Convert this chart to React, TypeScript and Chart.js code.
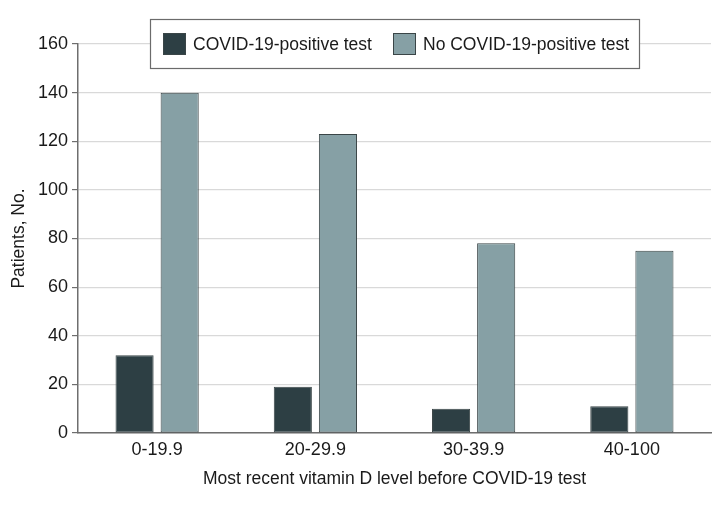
import React, { useEffect, useRef } from 'react';
import { Chart, registerables } from 'chart.js';

Chart.register(...registerables);

const categories = ['0-19.9', '20-29.9', '30-39.9', '40-100'];
const positiveCounts = [32, 19, 10, 11];
const negativeCounts = [140, 123, 78, 75];
const seriesLabels = ['COVID-19-positive test', 'No COVID-19-positive test'];
const yTicks = [0, 20, 40, 60, 80, 100, 120, 140, 160];

const FONT = '"Liberation Sans", Arial, sans-serif';
const DARK = '#2d3f44';
const LIGHT = '#86a0a5';
const EDGE = '#3a4547';

// boxed legend sitting inside the plot area, like the printed figure
const boxedLegend = {
  id: 'boxedLegend',
  afterDatasetsDraw(chart: any) {
    const ctx = chart.ctx;
    const x0 = 150, y0 = 19, w = 489, h = 49;
    ctx.save();
    ctx.fillStyle = '#fff';
    ctx.fillRect(x0, y0, w, h);
    ctx.strokeStyle = '#6b6b6b';
    ctx.lineWidth = 1.2;
    ctx.strokeRect(x0 + 0.5, y0 + 0.5, w, h);
    ctx.font = `17.5px ${FONT}`;
    ctx.textBaseline = 'middle';
    const starts = [163, 393];
    chart.data.datasets.forEach((ds: any, i: number) => {
      const sx = starts[i];
      ctx.fillStyle = ds.backgroundColor;
      ctx.fillRect(sx, 33, 23, 22);
      ctx.strokeStyle = EDGE;
      ctx.lineWidth = 1;
      ctx.strokeRect(sx + 0.5, 33.5, 22, 21);
      ctx.fillStyle = '#1a1a1a';
      ctx.fillText(ds.label, sx + 30, 45);
    });
    ctx.restore();
  },
};

const App: React.FC = () => {
  const canvasRef = useRef<HTMLCanvasElement | null>(null);
  const chartRef = useRef<Chart | null>(null);

  useEffect(() => {
    if (!canvasRef.current) return;
    if (chartRef.current) chartRef.current.destroy();

    chartRef.current = new Chart(canvasRef.current, {
      type: 'bar',
      data: {
        labels: categories,
        datasets: [
          {
            label: seriesLabels[0],
            data: positiveCounts,
            backgroundColor: DARK,
            borderColor: EDGE,
            borderWidth: 1,
            borderSkipped: false,
          },
          {
            label: seriesLabels[1],
            data: negativeCounts,
            backgroundColor: LIGHT,
            borderColor: EDGE,
            borderWidth: 1,
            borderSkipped: false,
          },
        ],
      },
      options: {
        animation: false,
        responsive: false,
        layout: { padding: { left: 0, right: 9, top: 44, bottom: 26 } },
        datasets: {
          bar: { categoryPercentage: 0.57, barPercentage: 0.845 },
        },
        plugins: {
          legend: { display: false },
          tooltip: { enabled: false },
        },
        scales: {
          x: {
            grid: { display: false },
            border: { display: true, color: '#6e6e6e', width: 1.5 },
            ticks: { color: '#1a1a1a', font: { family: FONT, size: 18 }, padding: -2 },
            title: {
              display: true,
              text: 'Most recent vitamin D level before COVID-19 test',
              color: '#1a1a1a',
              font: { family: FONT, size: 17.5 },
              padding: { top: 0, bottom: 0 },
            },
            afterFit: (scale: any) => {
              scale.height = 57;
            },
          },
          y: {
            min: 0,
            max: 160,
            afterBuildTicks: (scale: any) => {
              scale.ticks = yTicks.map((v) => ({ value: v }));
            },
            grid: { color: '#d9d9d9', lineWidth: 1.2, tickLength: 6, tickColor: '#6e6e6e' },
            border: { display: true, color: '#6e6e6e', width: 1.5 },
            ticks: { color: '#1a1a1a', font: { family: FONT, size: 18 }, padding: 4 },
            title: {
              display: true,
              text: 'Patients, No.',
              color: '#1a1a1a',
              font: { family: FONT, size: 17.5 },
              padding: { top: 9, bottom: 0 },
            },
            afterFit: (scale: any) => {
              scale.width = 78;
            },
          },
        },
      },
      plugins: [boxedLegend],
    });

    return () => {
      if (chartRef.current) {
        chartRef.current.destroy();
        chartRef.current = null;
      }
    };
  }, []);

  return (
    <div style={{ position: 'fixed', left: 0, top: 0, width: 720, height: 516, background: '#fff' }}>
      <canvas ref={canvasRef} width={720} height={516} style={{ width: 720, height: 516 }}></canvas>
    </div>
  );
};

export default App;
